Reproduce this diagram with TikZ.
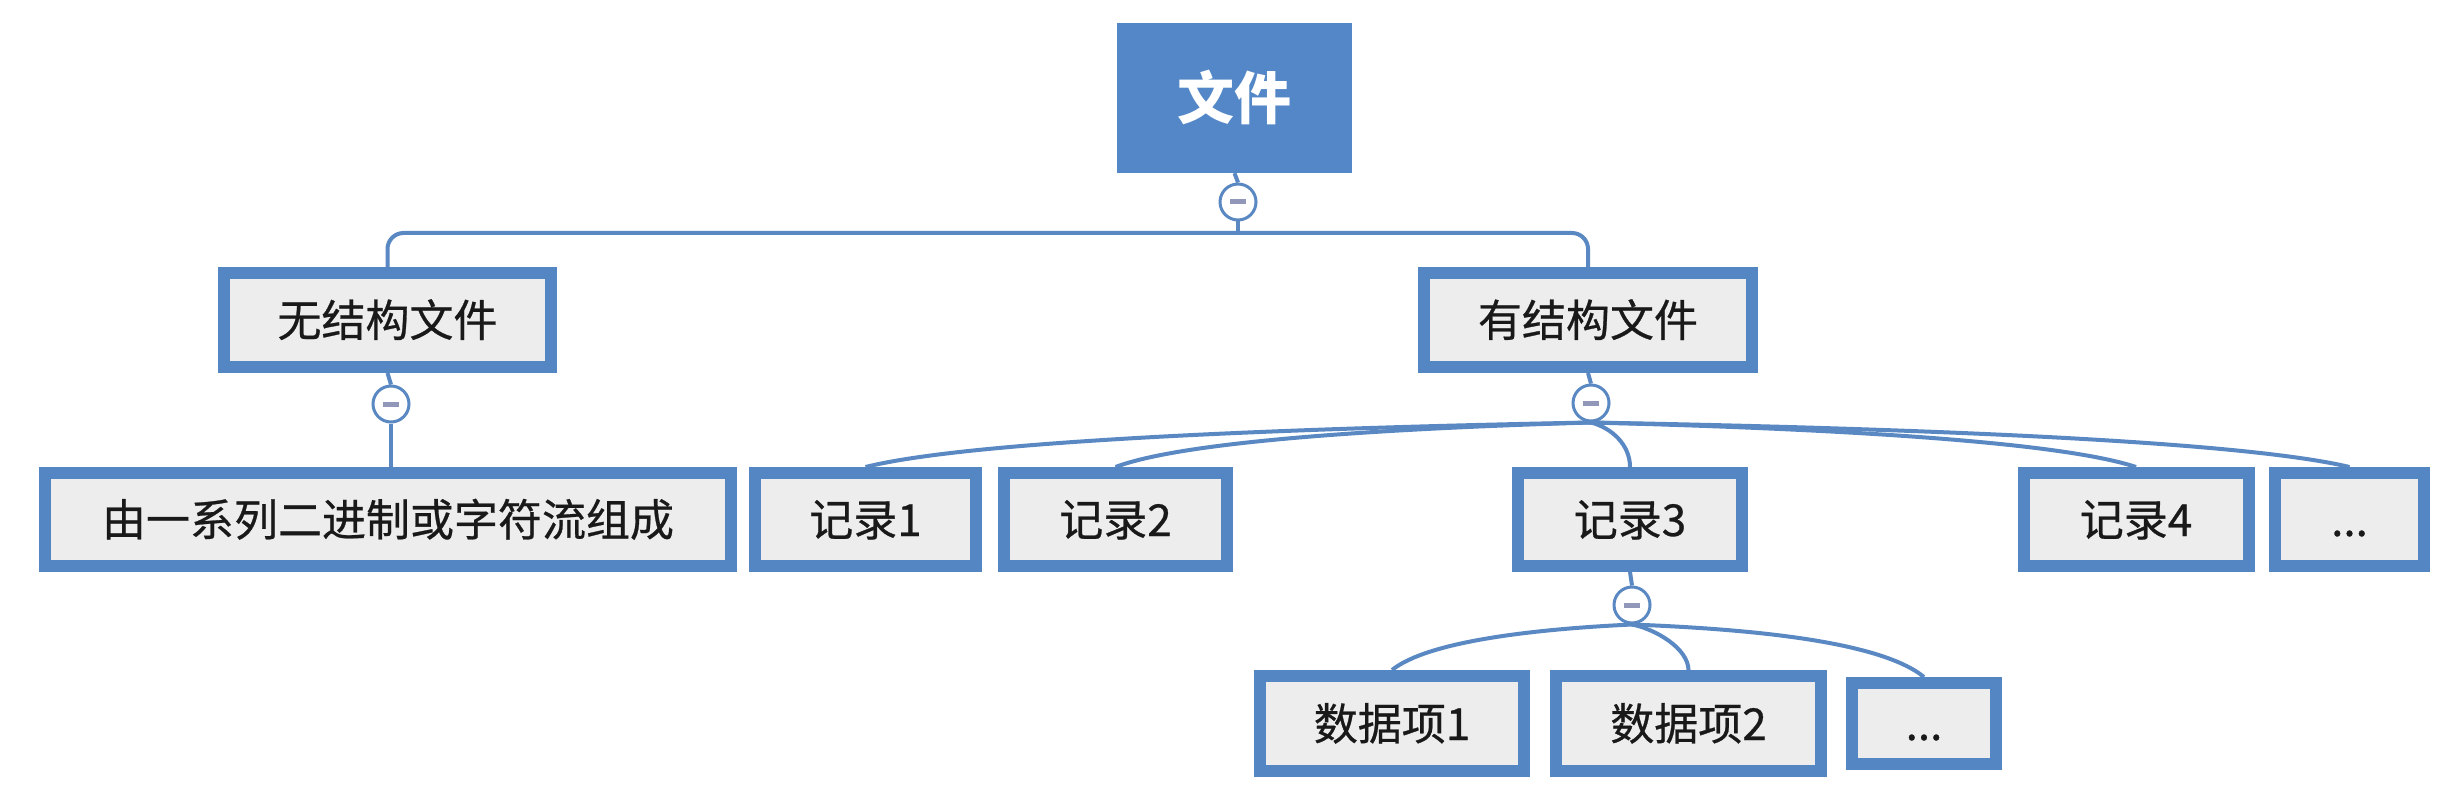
\documentclass[tikz,border=0pt]{standalone}
\usepackage{fontspec}
\usetikzlibrary{backgrounds}
\newfontfamily\cjk[FakeBold=0.6]{Noto Sans CJK SC}
\newfontfamily\cjkroot{Noto Sans CJK SC}
\definecolor{bblue}{HTML}{5586C4}
\definecolor{rootblue}{HTML}{5387C7}
\definecolor{lblue}{HTML}{5A88C2}
\definecolor{boxgray}{HTML}{EDEDED}
\definecolor{minusc}{HTML}{9097B8}
\tikzset{
  box/.style={draw=bblue, line width=12pt, fill=boxgray, inner sep=0pt,
    text=black!90, font=\cjk\fontsize{44}{48}\selectfont,
    text height=36pt, text depth=3pt},
  rootbox/.style={fill=rootblue, inner sep=0pt, text=white,
    font=\cjkroot\bfseries\fontsize{57}{60}\selectfont,
    text height=47pt, text depth=4pt,
    minimum width=235pt, minimum height=150pt},
  circ/.style={circle, draw=lblue, line width=3pt, fill=white, minimum size=36pt, inner sep=0pt,
    path picture={\draw[minusc, line width=5pt]
      ([xshift=-8pt]path picture bounding box.center) -- ([xshift=8pt]path picture bounding box.center);}},
  conn/.style={draw=lblue, line width=4pt}
}
\begin{document}
\begin{tikzpicture}[x=1pt,y=-1pt]
\useasboundingbox (0,0) rectangle (2456,794);
% nodes
\node[rootbox] (root) at (1234.5,98) {文件};
\node[circ] (c0) at (1238,202) {};
\coordinate (bar) at (1238,233);
\node[box, minimum width=327pt, minimum height=94pt] (n1) at (387.5,320) {无结构文件};
\node[box, minimum width=328pt, minimum height=94pt] (n2) at (1588,320) {有结构文件};
\node[circ] (c1) at (391,404) {};
\node[circ] (c2) at (1591,403) {};
\node[box, minimum width=686pt, minimum height=93pt] (m) at (388,519.5) {由一系列二进制或字符流组成};
\node[box, minimum width=221pt, minimum height=93pt] (r1) at (865.5,519.5) {记录1};
\node[box, minimum width=223pt, minimum height=93pt] (r2) at (1115.5,519.5) {记录2};
\node[box, minimum width=224pt, minimum height=93pt] (r3) at (1630,519.5) {记录3};
\node[box, minimum width=225pt, minimum height=93pt] (r4) at (2136,519.5) {记录4};
\node[box, minimum width=149pt, minimum height=93pt] (rd) at (2349.5,519.5) {...};
\node[circ] (c3) at (1632,605) {};
\node[box, minimum width=264pt, minimum height=95pt] (d1) at (1392,723.5) {数据项1};
\node[box, minimum width=265pt, minimum height=95pt] (d2) at (1688.5,723.5) {数据项2};
\node[box, minimum width=144pt, minimum height=81pt] (dd) at (1924,723.5) {...};
% connectors
\begin{scope}[on background layer]
\draw[conn] (root.south) -- (c0.north);
\draw[conn] (c0.south) -- (bar);
\draw[conn, rounded corners=16pt] (n1.north) |- (bar) -| (n2.north);
\draw[conn] (n1.south) -- (c1.north);
\draw[conn] (c1.south) -- (m.north -| c1.south);
\draw[conn] (n2.south) -- (c2.north);
\draw[conn] (c2.south) .. controls (1301,428) and (974,440) .. (r1.north);
\draw[conn] (c2.south) .. controls (1401,428) and (1187,440) .. (r2.north);
\draw[conn] (c2.south) .. controls (1612,428) and (1630,445) .. (r3.north);
\draw[conn] (c2.south) .. controls (1809,428) and (2054,440) .. (r4.north);
\draw[conn] (c2.south) .. controls (1894,428) and (2236,440) .. (rd.north);
\draw[conn] (r3.south) -- (c3.north);
\draw[conn] (c3.south) .. controls (1536,629) and (1428,641) .. (d1.north);
\draw[conn] (c3.south) .. controls (1655,629) and (1688,648) .. (d2.north);
\draw[conn] (c3.south) .. controls (1749,629) and (1880,641) .. (dd.north);
\end{scope}
\end{tikzpicture}
\end{document}
